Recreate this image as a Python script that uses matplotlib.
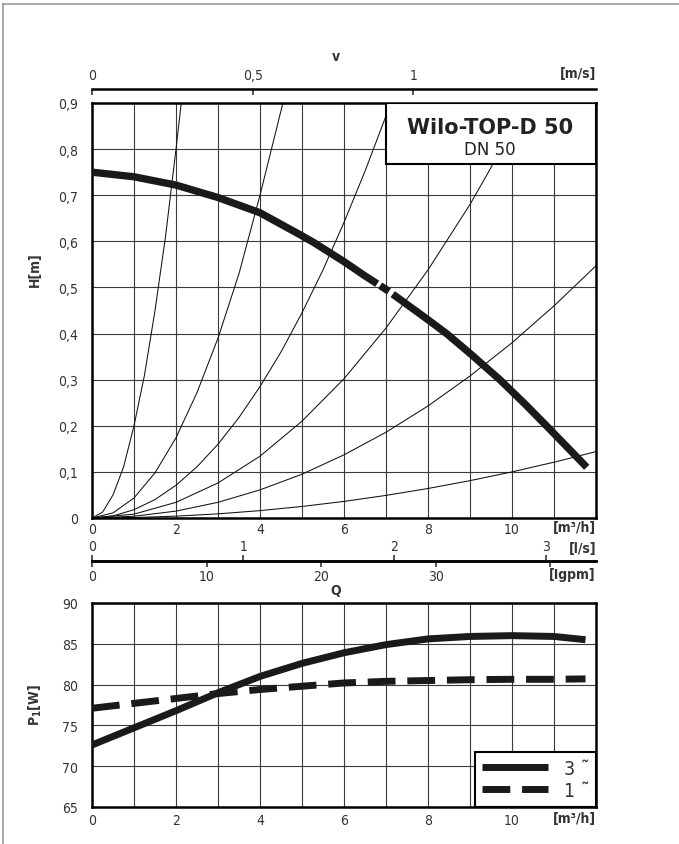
import matplotlib.pyplot as plt
import numpy as np
from matplotlib.lines import Line2D
from matplotlib.patches import Rectangle

plt.rcParams['font.family'] = ['DejaVu Sans']
plt.rcParams['font.stretch'] = 'condensed'

# pump curve H(Q) in m3/h -> m, break points around the marker near H=0.5
q_pump = np.array([0, 1, 2, 3, 4, 5, 5.27, 6, 6.5, 6.79, 6.86, 7.07, 7.16, 8, 8.44, 9, 9.71, 10.3, 10.82, 11.3, 11.78])
h_pump = np.array([0.75, 0.74, 0.722, 0.695, 0.662, 0.612, 0.598, 0.556, 0.525, 0.508, 0.504, 0.4915, 0.4855,
                   0.43, 0.40, 0.357, 0.30, 0.248, 0.20, 0.155, 0.11])

# system curves (thin lines)
sys_q = [
    [0, 0.25, 0.5, 0.75, 1, 1.25, 1.5, 1.75, 2, 2.15],
    [0, 0.5, 1, 1.5, 2, 2.5, 3, 3.5, 4, 4.6],
    [0, 0.5, 1, 1.5, 2, 2.5, 3, 3.5, 4, 4.5, 5, 5.5, 6, 6.5, 7, 7.1],
    [0, 1, 2, 3, 4, 5, 6, 7, 8, 9, 10, 11],
    [0, 1, 2, 3, 4, 5, 6, 7, 8, 9, 10, 11, 12],
    [0, 1, 2, 3, 4, 5, 6, 7, 8, 9, 10, 11, 12],
]
sys_h = [
    [0, 0.0125, 0.05, 0.11, 0.2, 0.31, 0.45, 0.61, 0.8, 0.92],
    [0, 0.011, 0.0435, 0.098, 0.174, 0.272, 0.39, 0.53, 0.70, 0.92],
    [0, 0.0045, 0.018, 0.040, 0.071, 0.111, 0.160, 0.218, 0.285, 0.360, 0.445, 0.538, 0.641, 0.752, 0.872, 0.897],
    [0, 0.0084, 0.034, 0.076, 0.134, 0.21, 0.302, 0.412, 0.538, 0.680, 0.84, 1.016],
    [0, 0.0038, 0.015, 0.034, 0.061, 0.095, 0.137, 0.186, 0.243, 0.308, 0.38, 0.46, 0.547],
    [0, 0.001, 0.004, 0.009, 0.016, 0.025, 0.036, 0.049, 0.064, 0.081, 0.1, 0.121, 0.144],
]

# power input P1(Q)
q_pow = [0, 1, 2, 3, 4, 5, 6, 7, 8, 9, 10, 11, 11.75]
p_3ph = [72.6, 74.7, 76.8, 79.0, 81.0, 82.6, 83.9, 84.9, 85.6, 85.9, 86.0, 85.9, 85.5]
p_1ph = [77.1, 77.7, 78.3, 78.9, 79.4, 79.8, 80.2, 80.4, 80.5, 80.6, 80.65, 80.65, 80.7]
legend_labels = ['3 \u02dc', '1 \u02dc']

q_ticks = [0, 2, 4, 6, 8, 10]
h_ticks = [0, 0.1, 0.2, 0.3, 0.4, 0.5, 0.6, 0.7, 0.8, 0.9]
p_ticks = [65, 70, 75, 80, 85, 90]
v_ticks = [0, 0.5, 1]
ls_ticks = [0, 1, 2, 3]
gpm_ticks = [0, 10, 20, 30, 40]

V_PER_Q = 7.65      # m3/h per 1 m/s in DN 50
LS_PER_Q = 3.6      # m3/h per 1 l/s
GPM_PER_Q = 0.27277  # m3/h per 1 Igpm

W, H = 679, 845
fig = plt.figure(figsize=(W / 100, H / 100), dpi=100)


def box(l, t, r, b):
    return [l / W, 1 - b / H, (r - l) / W, (b - t) / H]


def fmt(v):
    return ('%g' % v).replace('.', ',')


txt = '#333333'
grid_c = '#3a3a3a'

# ---------------- top: H(Q) ----------------
ax1 = fig.add_axes(box(92, 104, 596, 519))
ax1.set_xlim(0, 12)
ax1.set_ylim(0, 0.9)
ax1.set_xticks(range(13))
ax1.set_xticklabels([str(i) if i in q_ticks else '' for i in range(13)])
ax1.set_yticks(h_ticks)
ax1.set_yticklabels([fmt(v) for v in h_ticks])
ax1.tick_params(length=0, labelsize=10, colors=txt)
ax1.tick_params(axis='y', pad=10)
ax1.tick_params(axis='x', pad=3)
ax1.grid(True, color=grid_c, lw=0.8)
ax1.set_axisbelow(True)
for s in ax1.spines.values():
    s.set_linewidth(1.8)

for qs, hs in zip(sys_q, sys_h):
    ax1.plot(qs, hs, color='#111111', lw=0.75, zorder=2)

seg_masks = [q_pump <= 6.79, (q_pump >= 6.86) & (q_pump <= 7.07), q_pump >= 7.16]
for m in seg_masks:
    ax1.plot(q_pump[m], h_pump[m], color='#1a1a1a', lw=5.3, solid_capstyle='butt', zorder=5)

ax1.add_patch(Rectangle((0.583, 0.853), 0.417, 0.147, transform=ax1.transAxes,
                        facecolor='white', edgecolor='black', lw=1.5, zorder=4))
ax1.text(0.79, 0.943, 'Wilo-TOP-D 50', transform=ax1.transAxes, ha='center', va='center',
         fontsize=15, fontweight='bold', color='#222222', stretch='normal', zorder=6)
ax1.text(0.79, 0.888, 'DN 50', transform=ax1.transAxes, ha='center', va='center',
         fontsize=12, color='#222222', stretch='normal', zorder=6)

ax1.text(1.0, -0.006, '[m³/h]', transform=ax1.transAxes, ha='right', va='top',
         fontsize=10, fontweight='bold', color=txt)

# velocity scale above
sec_v = ax1.secondary_xaxis(1 + 14 / 415, functions=(lambda q: q / V_PER_Q, lambda v: v * V_PER_Q))
sec_v.set_xticks(v_ticks)
sec_v.set_xticklabels([fmt(v) for v in v_ticks])
sec_v.tick_params(direction='in', length=4, width=1.2, labelsize=10, colors=txt, pad=5)
for s in sec_v.spines.values():
    s.set_linewidth(1.8)
fig.text(596 / W, 1 - 74 / H, '[m/s]', ha='right', va='center', fontsize=10, fontweight='bold', color=txt)
fig.text(336 / W, 1 - 57 / H, 'v', ha='center', va='center', fontsize=10, fontweight='bold', color=txt)

# flow scales below
qpos = -(562 - 519) / 415
sec_ls = ax1.secondary_xaxis(qpos, functions=(lambda q: q / LS_PER_Q, lambda l: l * LS_PER_Q))
sec_ls.set_alignment('top')
sec_ls.set_xticks(ls_ticks)
sec_ls.set_xticklabels([str(v) for v in ls_ticks])
sec_ls.tick_params(direction='out', length=4, width=1.2, labelsize=10, colors=txt, pad=2)
sec_gpm = ax1.secondary_xaxis(qpos, functions=(lambda q: q / GPM_PER_Q, lambda g: g * GPM_PER_Q))
sec_gpm.set_xticks(gpm_ticks)
sec_gpm.set_xticklabels([str(v) if v < 40 else '' for v in gpm_ticks])
sec_gpm.tick_params(direction='out', length=4, width=1.2, labelsize=10, colors=txt, pad=2)
for sa in (sec_ls, sec_gpm):
    for s in sa.spines.values():
        s.set_linewidth(1.8)
fig.text(596 / W, 1 - 549 / H, '[l/s]', ha='right', va='center', fontsize=10, fontweight='bold', color=txt)
fig.text(596 / W, 1 - 575 / H, '[Igpm]', ha='right', va='center', fontsize=10, fontweight='bold', color=txt)
fig.text(336 / W, 1 - 591 / H, 'Q', ha='center', va='center', fontsize=10, fontweight='bold', color=txt)

fig.text(35 / W, 1 - 270 / H, 'H[m]', rotation=90, ha='center', va='center',
         fontsize=10, fontweight='bold', color=txt)

# ---------------- bottom: P1(Q) ----------------
ax2 = fig.add_axes(box(92, 604, 596, 808))
ax2.set_xlim(0, 12)
ax2.set_ylim(65, 90)
ax2.set_xticks(range(13))
ax2.set_xticklabels([str(i) if i in q_ticks else '' for i in range(13)])
ax2.set_yticks(p_ticks)
ax2.tick_params(length=0, labelsize=10, colors=txt)
ax2.tick_params(axis='y', pad=10)
ax2.tick_params(axis='x', pad=4)
ax2.grid(True, color=grid_c, lw=0.8)
ax2.set_axisbelow(True)
for s in ax2.spines.values():
    s.set_linewidth(1.8)

l3, = ax2.plot(q_pow, p_3ph, color='#1a1a1a', lw=5, solid_capstyle='butt', zorder=5)
l1, = ax2.plot(q_pow, p_1ph, color='#1a1a1a', lw=5, dashes=(4, 1.7), dash_capstyle='butt', zorder=5)
leg = ax2.legend([l3, l1], legend_labels, loc='lower right', borderaxespad=0, fancybox=False,
                 edgecolor='black', framealpha=1, fontsize=14, handlelength=3.4,
                 labelspacing=0.15, borderpad=0.35, handletextpad=0.8, labelcolor=txt)
leg.get_frame().set_linewidth(1.5)

ax2.text(1.0, -0.02, '[m³/h]', transform=ax2.transAxes, ha='right', va='top',
         fontsize=10, fontweight='bold', color=txt)
fig.text(35 / W, 1 - 705 / H, 'P$_\\mathbf{1}$[W]', rotation=90, ha='center', va='center',
         fontsize=10, fontweight='bold', color=txt)

# page frame
fig.add_artist(Line2D([3 / W, 1], [1 - 5 / H, 1 - 5 / H], color='#9a9a9a', lw=1.2))
fig.add_artist(Line2D([3 / W, 3 / W], [0, 1 - 5 / H], color='#9a9a9a', lw=1.2))

fig.savefig('out.png', dpi=100)
